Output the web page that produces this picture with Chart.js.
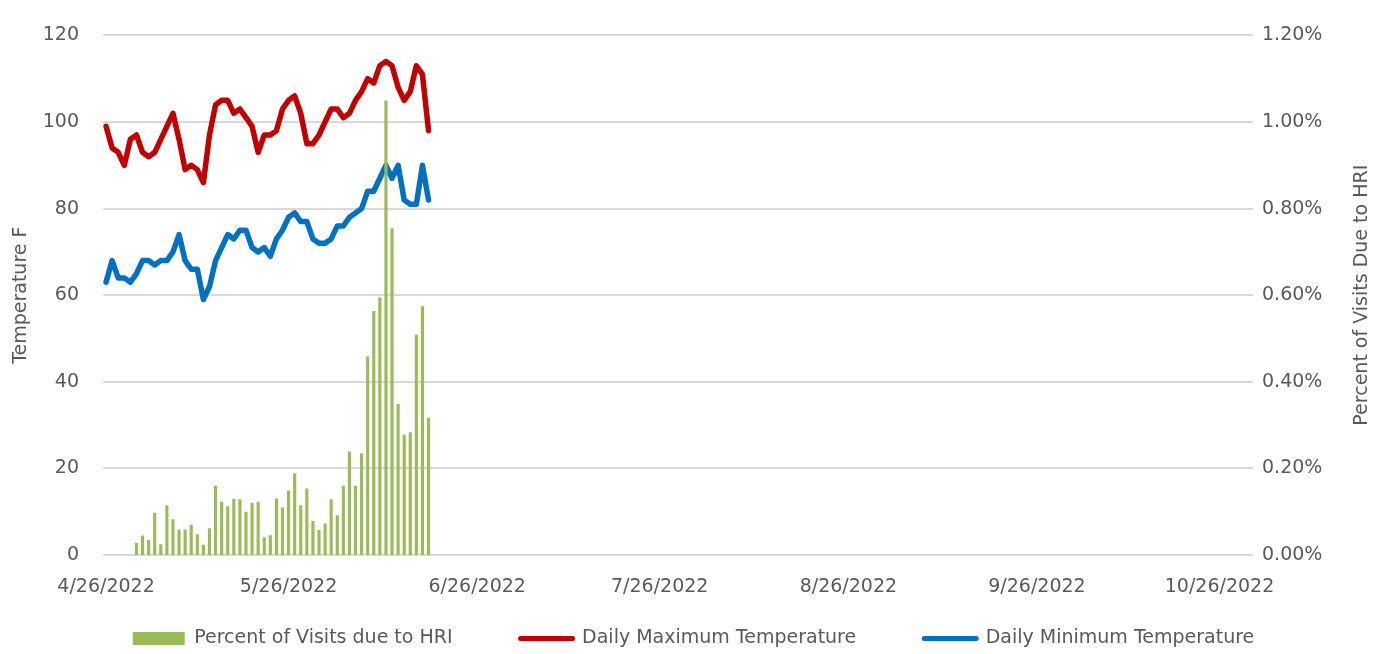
<!DOCTYPE html>
<html>
<head>
<meta charset="utf-8">
<script src="https://cdn.jsdelivr.net/npm/chart.js@4.4.1/dist/chart.umd.min.js"></script>
<style>
	html, body { margin: 0; padding: 0; background: #fff; }
</style>
</head>
<body>
<canvas id="chart" width="1387" height="654"></canvas>
<script>
// day offsets from 4/26/2022
const days = [0, 1, 2, 3, 4, 5, 6, 7, 8, 9, 10, 11, 12, 13, 14, 15, 16, 17, 18, 19, 20, 21, 22, 23, 24, 25, 26,
	27, 28, 29, 30, 31, 32, 33, 34, 35, 36, 37, 38, 39, 40, 41, 42, 43, 44, 45, 46, 47, 48, 49, 50, 51, 52, 53];

const maxTemp = [99, 94, 93, 90, 96, 97, 93, 92, 93, 96, 99, 102, 96, 89, 90, 89, 86, 97, 104, 105, 105, 102, 103, 101, 99, 93, 97,
	97, 98, 103, 105, 106, 102, 95, 95, 97, 100, 103, 103, 101, 102, 105, 107, 110, 109, 113, 114, 113, 108, 105, 107, 113, 111, 98];

const minTemp = [63, 68, 64, 64, 63, 65, 68, 68, 67, 68, 68, 70, 74, 68, 66, 66, 59, 62, 68, 71, 74, 73, 75, 75, 71, 70, 71,
	69, 73, 75, 78, 79, 77, 77, 73, 72, 72, 73, 76, 76, 78, 79, 80, 84, 84, 87, 90, 87, 90, 82, 81, 81, 90, 82];

// percent of visits due to HRI (in %)
const hriPct = [null, null, null, null, null, 0.027, 0.044, 0.034, 0.097, 0.024, 0.114, 0.082, 0.058, 0.058, 0.069, 0.047, 0.023, 0.061,
	0.159, 0.122, 0.112, 0.129, 0.128, 0.099, 0.120, 0.122, 0.040, 0.045, 0.130, 0.109, 0.148, 0.188, 0.114, 0.153, 0.078, 0.057,
	0.072, 0.128, 0.091, 0.159, 0.238, 0.159, 0.234, 0.458, 0.563, 0.594, 1.049, 0.754, 0.348, 0.277, 0.283, 0.508, 0.574, 0.316];

const tickDays = [0, 30, 61, 91, 122, 153, 183];
const tickLabels = ['4/26/2022', '5/26/2022', '6/26/2022', '7/26/2022', '8/26/2022', '9/26/2022', '10/26/2022'];

const textColor = '#595959';
const fontFamily = '"DejaVu Sans", sans-serif';
const fontSize = 19;

Chart.defaults.font.family = fontFamily;
Chart.defaults.font.size = fontSize;
Chart.defaults.color = textColor;

function points(values) {
	return days.map((d, i) => ({ x: d, y: values[i] }));
}

// right axis title reads bottom-to-top like the left one
const rightTitle = {
	id: 'rightTitle',
	afterDraw(chart) {
		const {ctx, chartArea} = chart;
		ctx.save();
		ctx.translate(chart.scales.y1.right - 25, (chartArea.top + chartArea.bottom) / 2);
		ctx.rotate(-Math.PI / 2);
		ctx.font = fontSize + 'px ' + fontFamily;
		ctx.fillStyle = textColor;
		ctx.textAlign = 'center';
		ctx.textBaseline = 'middle';
		ctx.fillText('Percent of Visits Due to HRI', 0, 0);
		ctx.restore();
	}
};

const ctx = document.getElementById('chart').getContext('2d');

new Chart(ctx, {
	data: {
		datasets: [
			{
				type: 'bar',
				label: 'Percent of Visits due to HRI',
				data: points(hriPct),
				yAxisID: 'y1',
				backgroundColor: '#9BBB59',
				barThickness: 2.5,
				order: 0
			},
			{
				type: 'line',
				label: 'Daily Maximum Temperature',
				data: points(maxTemp),
				yAxisID: 'y',
				borderColor: '#C00000',
				borderWidth: 5.5,
				borderJoinStyle: 'round',
				borderCapStyle: 'round',
				pointRadius: 0,
				tension: 0,
				order: 1
			},
			{
				type: 'line',
				label: 'Daily Minimum Temperature',
				data: points(minTemp),
				yAxisID: 'y',
				borderColor: '#0070C0',
				borderWidth: 5.5,
				borderJoinStyle: 'round',
				borderCapStyle: 'round',
				pointRadius: 0,
				tension: 0,
				order: 2
			}
		]
	},
	options: {
		responsive: false,
		animation: false,
		layout: { padding: { top: 20, left: 0, right: 0, bottom: 0 } },
		plugins: {
			tooltip: { enabled: false },
			legend: {
				position: 'bottom',
				maxHeight: 93,
				labels: {
					usePointStyle: true,
					pointStyleWidth: 52,
					boxHeight: 13,
					padding: 68,
					color: textColor,
					generateLabels(chart) {
						const items = Chart.defaults.plugins.legend.labels.generateLabels(chart);
						items.forEach(item => {
							const ds = chart.data.datasets[item.datasetIndex];
							if (ds.type === 'bar') {
								item.pointStyle = 'rect';
								item.fillStyle = '#9BBB59';
								item.strokeStyle = '#9BBB59';
								item.lineWidth = 0;
							} else {
								item.pointStyle = 'line';
								item.strokeStyle = ds.borderColor;
								item.lineWidth = 5;
								item.lineCap = 'round';
							}
						});
						return items;
					}
				}
			}
		},
		scales: {
			x: {
				type: 'linear',
				min: -0.5,
				max: 188.5,
				offset: false,
				grid: { display: false, drawTicks: false, offset: false },
				border: { display: false },
				afterBuildTicks: axis => {
					axis.ticks = tickDays.map(v => ({ value: v }));
				},
				afterFit: axis => { axis.height = 6; },
				ticks: {
					// mirrored with negative padding so labels sit below the thin axis box without being clipped
					mirror: true,
					padding: -43,
					autoSkip: false,
					maxRotation: 0,
					callback: (value, index) => tickLabels[index]
				}
			},
			y: {
				position: 'left',
				min: 0,
				max: 120,
				grid: { color: '#D9D9D9', lineWidth: 2, drawTicks: false },
				border: { display: false },
				afterFit: axis => { axis.width = 103; },
				ticks: { stepSize: 20, padding: 24 },
				title: {
					display: true,
					text: 'Temperature F',
					padding: { top: 10, bottom: 0 },
					font: { size: fontSize }
				}
			},
			y1: {
				position: 'right',
				min: 0,
				max: 1.2,
				grid: { display: false, drawTicks: false },
				border: { display: false },
				afterFit: axis => { axis.width = 134; },
				ticks: {
					stepSize: 0.2,
					padding: 9,
					callback: value => value.toFixed(2) + '%'
				}
			}
		}
	},
	plugins: [rightTitle]
});
</script>
</body>
</html>
